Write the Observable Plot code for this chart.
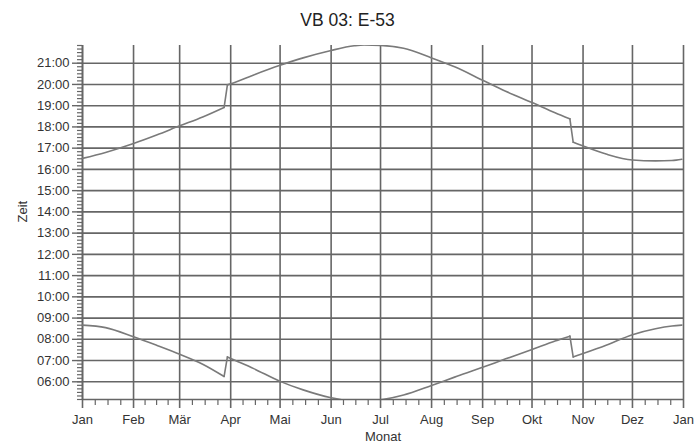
<!DOCTYPE html>
<html><head><meta charset="utf-8">
<script src="https://cdn.jsdelivr.net/npm/d3@7"></script>
<script src="https://cdn.jsdelivr.net/npm/@observablehq/plot@0.6"></script>
<style>
body{margin:0;background:#fff;font-family:"Liberation Sans",Arial,sans-serif;}
#title{width:695px;height:40px;line-height:40px;text-align:center;font-size:17.5px;color:#222;}
</style></head><body>
<div id="title">VB 03: E-53</div>
<div id="chart"></div>
<script>
const dates = ["2009-01-01","2009-01-15","2009-02-01","2009-02-15","2009-03-01","2009-03-15","2009-03-28","2009-03-30","2009-04-01","2009-04-15","2009-05-01","2009-05-15","2009-06-01","2009-06-15","2009-06-21","2009-07-01","2009-07-15","2009-08-01","2009-08-15","2009-09-01","2009-09-15","2009-10-01","2009-10-15","2009-10-24","2009-10-26","2009-11-01","2009-11-15","2009-12-01","2009-12-15","2009-12-25","2009-12-31"];
const sunset = [16.52,16.80,17.22,17.62,18.05,18.47,18.92,19.98,20.03,20.45,20.90,21.25,21.60,21.82,21.86,21.84,21.70,21.25,20.83,20.20,19.68,19.15,18.67,18.38,17.28,17.10,16.72,16.44,16.40,16.42,16.48];
const sunrise = [8.67,8.55,8.12,7.72,7.30,6.83,6.25,7.17,7.10,6.62,6.02,5.62,5.25,5.08,5.07,5.15,5.38,5.83,6.22,6.68,7.08,7.52,7.92,8.15,7.17,7.33,7.72,8.22,8.50,8.63,8.67];
const dstStarts = ["2009-03-30", "2009-10-26"];   // first plotted day after each clock change
const monthLabels = ["Jan","Feb","Mär","Apr","Mai","Jun","Jul","Aug","Sep","Okt","Nov","Dez"];
const hourTicks = [6,7,8,9,10,11,12,13,14,15,16,17,18,19,20,21];
const xStart = "2009-01-01", xEnd = "2010-01-01";
const yDomain = [5 + 10/60, 21 + 50/60];

const parse = d3.utcParse("%Y-%m-%d");
const x0 = parse(xStart), x1 = parse(xEnd);
const cuts = dstStarts.map(parse);
const rows = [];
const jumps = [];
[["Sonnenuntergang", sunset], ["Sonnenaufgang", sunrise]].forEach(([name, vals]) => {
  dates.forEach((d, i) => {
    const date = parse(d);
    const period = cuts.filter(c => date >= c).length;
    rows.push({date, value: vals[i], series: name + period});
    const ci = cuts.findIndex(c => +c === +date);
    if (ci >= 0) {
      jumps.push({date: parse(dates[i - 1]), value: vals[i - 1], series: name + "j" + ci});
      jumps.push({date, value: vals[i], series: name + "j" + ci});
    }
  });
});
const monthTicks = d3.utcMonth.range(x0, d3.utcDay.offset(x1, 1));
const minorX = [];
for (let i = 0; i < monthTicks.length - 1; i++) {
  const a = +monthTicks[i], b = +monthTicks[i + 1];
  for (let k = 1; k < 4; k++) minorX.push(new Date(a + (b - a) * k / 4));
}
const minorY = d3.range(31, 132).map(i => i / 6);
const fmtH = h => { const m = Math.round(h * 60); return String(Math.floor(m / 60)).padStart(2, "0") + ":" + String(m % 60).padStart(2, "0"); };

const gridStyle = {stroke: "#666", strokeOpacity: 1, strokeWidth: 1.6};
const lineStyle = {x: "date", y: "value", z: "series", stroke: "#7a7a7a", strokeWidth: 1.6, clip: true};
const chart = Plot.plot({
  width: 695, height: 407,
  marginLeft: 82, marginRight: 12, marginTop: 5, marginBottom: 48,
  style: {fontFamily: "'Liberation Sans', Arial, sans-serif", fontSize: "13px", color: "#333", background: "#fff"},
  x: {type: "utc", domain: [x0, x1], label: null},
  y: {domain: yDomain, label: null},
  marks: [
    Plot.gridY(hourTicks, gridStyle),
    Plot.gridX(monthTicks, gridStyle),
    Plot.ruleY([yDomain[0]], gridStyle),
    Plot.ruleX([x0], gridStyle),
    Plot.axisY(minorY, {tickSize: 5, tickFormat: () => "", stroke: "#666", strokeWidth: 1.2, label: null}),
    Plot.axisY(hourTicks, {tickSize: 10, tickPadding: 3, tickFormat: fmtH, stroke: "#666", strokeWidth: 1.4, fontSize: 13, label: null}),
    Plot.axisX(minorX, {tickSize: 6, tickFormat: () => "", stroke: "#666", strokeWidth: 1.2, label: null}),
    Plot.axisX(monthTicks, {tickSize: 9, tickPadding: 6, tickFormat: d => monthLabels[d.getUTCMonth()], stroke: "#666", strokeWidth: 1.6, fontSize: 13, label: null}),
    Plot.line(rows, {...lineStyle, curve: "monotone-x"}),
    Plot.line(jumps, {...lineStyle, curve: "linear"}),
    Plot.text(["Zeit"], {frameAnchor: "left", dx: -60, rotate: -90, fontSize: 13, fill: "#333"}),
    Plot.text(["Monat"], {frameAnchor: "bottom", dy: 41, fontSize: 13, fill: "#333"})
  ]
});
document.getElementById("chart").appendChild(chart);
</script>
</body></html>
